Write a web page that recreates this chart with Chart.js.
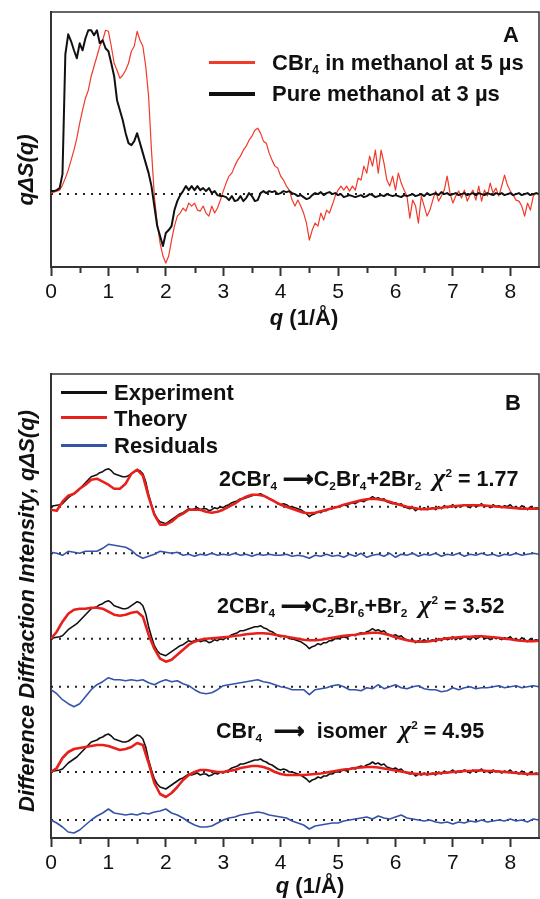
<!DOCTYPE html>
<html>
<head>
<meta charset="utf-8">
<title>CBr4 in methanol - difference diffraction</title>
<script src="https://cdn.jsdelivr.net/npm/chart.js@4.4.1/dist/chart.umd.min.js"></script>
<style>
  html, body { margin: 0; padding: 0; background: #fff; }
  body { font-family: 'Liberation Sans', Arial, sans-serif; color: #111; }
  #fig { position: relative; width: 540px; height: 899px; overflow: hidden; }
  canvas { position: absolute; left: 0; }
  #chartA { top: 0; }
  #chartB { top: 360px; }
  .lbl { position: absolute; font-weight: bold; font-size: 22px; line-height: 1; white-space: nowrap; transform: translateY(-50%); }
  .lbl sub { font-size: 0.55em; vertical-align: -0.3em; line-height: 0; }
  .lbl sup { font-size: 0.55em; vertical-align: 0.75em; line-height: 0; }
  .eq { font-size: 21.5px; }
  .chi { font-family: 'Liberation Serif', serif; font-style: italic; font-size: 26px; }
  .arr { font-family: 'DejaVu Sans', sans-serif; font-weight: bold; -webkit-text-stroke: 0.8px #111; }
  .ytitle { position: absolute; font-weight: bold; font-style: italic; font-size: 22px; line-height: 1; white-space: nowrap;
            transform: translate(-50%, -50%) rotate(-90deg); }
  .xtitle { position: absolute; font-weight: bold; font-size: 22px; line-height: 1; white-space: nowrap; transform: translate(-50%, -50%); }
  .swatch { position: absolute; height: 3px; }
</style>
</head>
<body>
<div id="fig">
  <canvas id="chartA" width="540" height="340"></canvas>
  <canvas id="chartB" width="540" height="539"></canvas>

  <!-- panel A annotations -->
  <div class="lbl" style="left:503px; top:35px;">A</div>
  <div class="swatch" style="left:209px; top:61px; width:46px; background:#f03a2a;"></div>
  <div class="lbl" style="left:272px; top:63px;">CBr<sub>4</sub> in methanol at 5 &micro;s</div>
  <div class="swatch" style="left:209px; top:92px; width:46px; height:3.5px; background:#111;"></div>
  <div class="lbl" style="left:272px; top:94px;">Pure methanol at 3 &micro;s</div>
  <div class="ytitle" style="left:26px; top:170px;">q&Delta;S(q)</div>
  <div class="xtitle" style="left:304px; top:318px;"><i>q</i> (1/&Aring;)</div>

  <!-- panel B annotations -->
  <div class="swatch" style="left:61px; top:391px; width:46px; background:#111;"></div>
  <div class="lbl" style="left:114px; top:393px;">Experiment</div>
  <div class="swatch" style="left:61px; top:416px; width:46px; background:#e8201c;"></div>
  <div class="lbl" style="left:114px; top:419px;">Theory</div>
  <div class="swatch" style="left:61px; top:443.5px; width:46px; background:#3553a8;"></div>
  <div class="lbl" style="left:114px; top:446px;">Residuals</div>
  <div class="lbl" style="left:505px; top:403px;">B</div>
  <div class="lbl eq" style="left:219px; top:478px;">2CBr<sub>4</sub> <span class="arr">&#10230;</span>C<sub>2</sub>Br<sub>4</sub>+2Br<sub>2</sub>&nbsp; <span class="chi">&chi;</span><sup>2</sup> = 1.77</div>
  <div class="lbl eq" style="left:217px; top:605px;">2CBr<sub>4</sub> <span class="arr">&#10230;</span>C<sub>2</sub>Br<sub>6</sub>+Br<sub>2</sub>&nbsp; <span class="chi">&chi;</span><sup>2</sup> = 3.52</div>
  <div class="lbl eq" style="left:216px; top:730px;">CBr<sub>4</sub>&nbsp; <span class="arr">&#10230;</span>&nbsp; isomer&nbsp; <span class="chi">&chi;</span><sup>2</sup> = 4.95</div>
  <div class="ytitle" style="left:27px; top:611px;">Difference Diffraction Intensity, q&Delta;S(q)</div>
  <div class="xtitle" style="left:310px; top:886px;"><i>q</i> (1/&Aring;)</div>
</div>

<script>
// q grids (1/A)
const qFine = Array.from({length: 171}, (_, i) => +(i * 0.05).toFixed(2));
const qCoarse = Array.from({length: 86}, (_, i) => +(i * 0.1).toFixed(1));
const minorTicks = [0.5, 1.5, 2.5, 3.5, 4.5, 5.5, 6.5, 7.5];

// Panel A: qdS(q), arbitrary units, sampled on qFine
const cbr4Methanol = [
  1, 2, 3, 4, 9, 16, 24, 34, 44, 56,
  71, 84, 96, 104, 118, 128, 138, 148, 154, 164,
  163, 148, 131, 124, 116, 119, 124, 131, 143, 148,
  163, 154, 148, 128, 98, 44, -2, -29, -49, -62,
  -69, -62, -46, -32, -22, -19, -14, -17, -9, -12,
  -9, -16, -17, -12, -19, -22, -12, -19, -14, -6,
  3, 11, 18, 21, 28, 34, 38, 44, 48, 54,
  58, 64, 66, 61, 53, 51, 41, 34, 28, 26,
  18, 14, 8, 4, -6, -12, -6, -12, -19, -29,
  -46, -36, -29, -32, -19, -26, -16, -19, -11, -2,
  4, 8, 4, 8, 3, 8, 4, 16, 14, 28,
  21, 38, 28, 44, 21, 44, 31, 14, 8, 18,
  4, 21, 11, 4, -2, -24, -6, -12, -29, -2,
  -12, -22, -16, -6, 3, -7, -2, 4, 18, 1,
  -9, -2, 3, -4, 4, -7, -1, 4, -6, 8,
  -7, 4, -2, 11, 1, 6, -2, 8, 19, 9,
  3, -1, -6, -7, -12, -22, -9, -16, -2, 1,
  0
];
const pureMethanol = [
  3, 3, 4, 6, 20, 140, 160, 153, 144, 136,
  151, 144, 156, 164, 164, 159, 164, 151, 154, 146,
  143, 131, 118, 94, 84, 74, 61, 51, 49, 53,
  61, 51, 41, 31, 21, 8, -12, -32, -42, -52,
  -39, -36, -32, -16, -7, -1, 3, 8, 4, 8,
  4, 8, 4, 6, 3, 6, 1, 3, -1, -2,
  -2, -3, -6, -2, -7, -6, -2, -7, -4, 1,
  -2, -7, -6, 1, 3, 1, 3, 2, 3, 0,
  1, 3, 2, 3, 1, 0, -2, -1, -3, -5,
  -4, -1, 1, 0, 2, -1, 1, 2, 0, 1,
  -1, 0, -3, -2, -1, -2, -3, -2, -1, -3,
  -2, 0, -1, -3, -2, -1, -2, 0, -1, -2,
  -1, -2, -3, -1, -2, -1, 0, -2, -1, 0,
  -2, 1, -1, 0, 1, -1, 2, 0, 1, -1,
  0, 1, -1, 0, 1, -1, 0, 1, -1, 1,
  0, -1, 1, 0, -1, 1, 0, 1, -1, 0,
  1, -1, 0, 1, -1, 0, 1, -1, 0, 1,
  0
];

// Panel B: measured curve (same data under each model), on qFine
const experiment = [
  0, 1, 1.5, 2, 3, 6, 9, 11, 13, 15,
  18, 21, 24, 27, 30, 31, 32, 34, 35, 37,
  38, 36, 33, 32, 31, 30, 30, 31, 33, 35,
  37, 36, 33, 25, 12, 2, -7, -12, -15, -16,
  -17, -15, -13, -11, -9, -7, -6, -4, -2, -3,
  -2, -1, -3, -2, -2, -4, -3, -1, -2, 0,
  -1, 1, 2, 4, 5, 6, 8, 8, 9, 10,
  11, 12, 12, 13, 11, 10, 8, 7, 5, 3,
  2, 3, 2, 0, 0, -1, -2, -3, -5, -7,
  -10, -8, -7, -5, -6, -4, -4, -2, -2, 0,
  0, 1, 2, 1, 3, 4, 3, 5, 6, 5,
  7, 8, 10, 8, 9, 7, 8, 5, 4, 3,
  4, 2, 3, 0, -1, -2, -1, -4, -2, -3,
  -1, -3, -2, -1, -3, 0, -2, 1, -1, 0,
  2, -1, 1, 0, 2, 1, -1, 2, 0, 1,
  3, 0, 1, -1, 2, 0, 1, -1, 1, 0,
  2, -1, 0, -2, 1, -1, -3, 0, -2, -1,
  -2
];

// model curves and residuals, on qCoarse
const theoryC2Br4 = [
  -3, -4, 5, 11, 13, 18, 22, 27, 28, 25,
  22, 18, 18, 23, 33, 37, 31, 10, -8, -18,
  -18, -15, -10, -7, -3, -3, -3, -5, -6, -5,
  -3, 0, 3, 7, 10, 12, 12, 11, 8, 5,
  2, 0, -2, -4, -6, -6.5, -6, -4.5, -3, -1.5,
  0, 2, 3.5, 5, 6.5, 7.5, 8, 7.5, 6.5, 5,
  3, 1.5, 0, -1, -2, -2.5, -2, -1.5, -1, 0,
  0.5, 1, 1.5, 1.5, 1.5, 1.5, 1, 0.5, 0, -0.5,
  -1, -1.5, -2, -2, -2, -2
];
const theoryC2Br6 = [
  0, 7, 17, 25, 29, 30, 30, 31, 31, 30,
  27, 24, 23, 24, 26, 27, 22, 4, -10, -20,
  -23, -21, -16, -11, -6, -3, -1, 0, 0.5, 1,
  1.5, 2, 3, 3.5, 4.5, 5, 5.5, 5.5, 5, 4,
  3, 2, 1, 0, -1, -1.5, -1.5, -1, 0, 1,
  2, 3, 3.5, 4, 5, 5.5, 6, 6, 5, 3.5,
  1.5, 0, -1.5, -2.5, -3, -3, -2.5, -1.5, -0.5, 0.5,
  1, 1.5, 2, 2, 2.5, 2.5, 2, 1.5, 1, 0,
  -0.5, -1.5, -2, -2.5, -2.5, -2
];
const theoryIsomer = [
  0, 4, 14, 20, 23, 24, 25, 26, 27, 27,
  26, 24, 22, 23, 25, 29, 27, 9, -11, -22,
  -25, -21, -15, -8, -3, 0, 2, 2, 1, 0,
  0, 1, 2, 4, 5, 6, 6, 5, 3, 0,
  -2, -3, -3, -3, -3, -2.5, -2, -1.5, -0.5, 0.5,
  1.5, 2.5, 3, 4, 4.5, 5, 5, 4.5, 3.5, 2.5,
  1.5, 0.5, -0.5, -1.5, -2, -2, -2, -1.5, -1, -0.5,
  0, 0.5, 1, 1, 1.5, 1.5, 1, 1, 0.5, 0,
  -0.5, -1, -1.5, -2, -2, -2
];
const residC2Br4 = [
  1, 0, -2, 2, 1, 0, 2, 2, 2, 5,
  9, 8, 7, 6, 3, -2, -5, -3, -1, 2,
  1, 0, 1, -2, -1, -3, -1, -2, 0, -2,
  -1, -2, 0, -2, -1, -3, -1, -2, -1, -2,
  -2, -1, -3, -2, -3, -5, -2, -3, -1, -3,
  -2, -4, -1, -3, 0, -4, -2, -1, -3, 0,
  -4, -1, -2, 0, -3, -1, -2, 0, -3, -1,
  -2, 0, -3, -1, -2, 0, -2, -1, -3, -1,
  -2, 0, -2, -1, 0, -1
];
const residC2Br6 = [
  -3, -7, -13, -17, -20, -17, -10, -3, 2, 5,
  9, 7, 7, 6, 7, 6, 7, 4, 2, 5,
  7, 5, 6, 3, 1, -3, -6, -7, -6, -3,
  1, 2, 3, 4, 5, 6, 7, 5, 4, 2,
  0, -1, -3, -3, -3, -8, -3, -2, -1, 1,
  2, 0, -3, -3, -4, -1, -2, 2, -2, 0,
  2, -1, -2, 0, 1, -2, -3, -3, -5, -4,
  -1, -3, -1, 0, -2, -1, -1, 0, 1, -1,
  0, 1, -1, 0, 1, 0
];
const residIsomer = [
  0, -3, -7, -12, -13, -10, -5, 0, 4, 7,
  11, 7, 6, 5, 6, 5, 7, 6, 8, 9,
  11, 7, 5, 2, -2, -5, -7, -7, -6, -3,
  0, 2, 3, 5, 6, 7, 8, 7, 5, 4,
  3, 2, -1, -3, -5, -9, -6, -5, -4, -3,
  -3, -1, 0, 1, 2, 3, 1, 4, 2, 1,
  3, 5, 2, 1, 0, -1, 0, -2, -3, -2,
  -4, -2, -3, -1, -2, 0, -2, -1, 0, -1,
  1, -1, 0, -2, 1, 0
];

const BLACK = '#111111';
const RED_A = '#f03a2a';
const RED = '#e8201c';
const BLUE = '#3553a8';
const AXIS = '#333333';

Chart.defaults.font.family = "'Liberation Sans', Arial, sans-serif";
Chart.defaults.color = '#111';

const pts = (qs, vals) => vals.map((v, i) => ({x: qs[i], y: v}));

function curve(data, color, width, yAxisID, order) {
  return {data, borderColor: color, borderWidth: width, pointRadius: 0, tension: 0,
          fill: false, yAxisID, order, borderJoinStyle: 'round'};
}
function zeroLine(yAxisID) {
  return {data: [{x: 0, y: 0}, {x: 8.5, y: 0}], borderColor: '#222', borderWidth: 2,
          borderDash: [2, 6], pointRadius: 0, yAxisID, order: 5};
}

// frame on top/right plus the short half-unit ticks on the q axis
const frameTicks = {
  id: 'frameTicks',
  afterDraw(chart) {
    const {ctx, chartArea: a} = chart;
    const xs = chart.scales.x;
    ctx.save();
    ctx.strokeStyle = AXIS;
    ctx.lineWidth = 1.5;
    ctx.beginPath();
    ctx.moveTo(a.left, a.top);
    ctx.lineTo(a.right, a.top);
    ctx.lineTo(a.right, a.bottom);
    ctx.stroke();
    ctx.lineWidth = 2;
    ctx.beginPath();
    minorTicks.forEach(v => {
      const px = Math.round(xs.getPixelForValue(v)) + 0.5;
      ctx.moveTo(px, a.bottom);
      ctx.lineTo(px, a.bottom + 6);
    });
    ctx.stroke();
    ctx.restore();
  }
};

function qAxis(height) {
  return {
    type: 'linear', min: 0, max: 8.5,
    grid: {drawOnChartArea: false, drawTicks: true, tickLength: 9, tickWidth: 2, tickColor: AXIS},
    border: {display: true, color: AXIS, width: 2},
    ticks: {stepSize: 1, includeBounds: false, padding: 4, maxRotation: 0,
            font: {size: 21}, color: '#111',
            callback: v => Number.isInteger(v) ? String(v) : ''},
    afterFit: s => { s.height = height; }
  };
}
function frameAxis(min, max) {
  return {
    type: 'linear', min, max, position: 'left',
    grid: {display: false, drawTicks: false},
    border: {display: true, color: AXIS, width: 2},
    ticks: {display: false},
    afterFit: s => { s.width = 51; }
  };
}
function hiddenAxis(min, max) {
  return {type: 'linear', axis: 'y', position: 'left', min, max, display: false};
}

const common = {
  responsive: false,
  animation: false,
  events: [],
  plugins: {legend: {display: false}, tooltip: {enabled: false}}
};

// Panel A
new Chart(document.getElementById('chartA'), {
  type: 'line',
  data: {
    datasets: [
      curve(pts(qFine, pureMethanol), BLACK, 2, 'y', 1),
      curve(pts(qFine, cbr4Methanol), RED_A, 1.2, 'y', 2),
      zeroLine('y')
    ]
  },
  options: {
    ...common,
    layout: {padding: {top: 12, right: 1, left: 0, bottom: 0}},
    scales: {
      x: qAxis(73),
      y: frameAxis(-73, 182.3)
    }
  },
  plugins: [frameTicks]
});

// Panel B: each curve pair sits on its own offset axis
new Chart(document.getElementById('chartB'), {
  type: 'line',
  data: {
    datasets: [
      curve(pts(qCoarse, theoryC2Br4), RED, 2.6, 'y', 1),
      curve(pts(qFine, experiment), BLACK, 1.6, 'y', 2),
      curve(pts(qCoarse, residC2Br4), BLUE, 1.6, 'yRes1', 2),
      curve(pts(qCoarse, theoryC2Br6), RED, 2.6, 'y2', 1),
      curve(pts(qFine, experiment), BLACK, 1.6, 'y2', 2),
      curve(pts(qCoarse, residC2Br6), BLUE, 1.6, 'yRes2', 2),
      curve(pts(qCoarse, theoryIsomer), RED, 2.6, 'y3', 1),
      curve(pts(qFine, experiment), BLACK, 1.6, 'y3', 2),
      curve(pts(qCoarse, residIsomer), BLUE, 1.6, 'yRes3', 2),
      zeroLine('y'), zeroLine('yRes1'), zeroLine('y2'), zeroLine('yRes2'), zeroLine('y3'), zeroLine('yRes3')
    ]
  },
  options: {
    ...common,
    layout: {padding: {top: 14, right: 1, left: 0, bottom: 0}},
    scales: {
      x: qAxis(61),
      y: frameAxis(-331.3, 132.7),
      yRes1: hiddenAxis(-284.7, 179.3),
      y2: hiddenAxis(-199.3, 264.7),
      yRes2: hiddenAxis(-151.3, 312.7),
      y3: hiddenAxis(-66, 398),
      yRes3: hiddenAxis(-18, 446)
    }
  },
  plugins: [frameTicks]
});
</script>
</body>
</html>
